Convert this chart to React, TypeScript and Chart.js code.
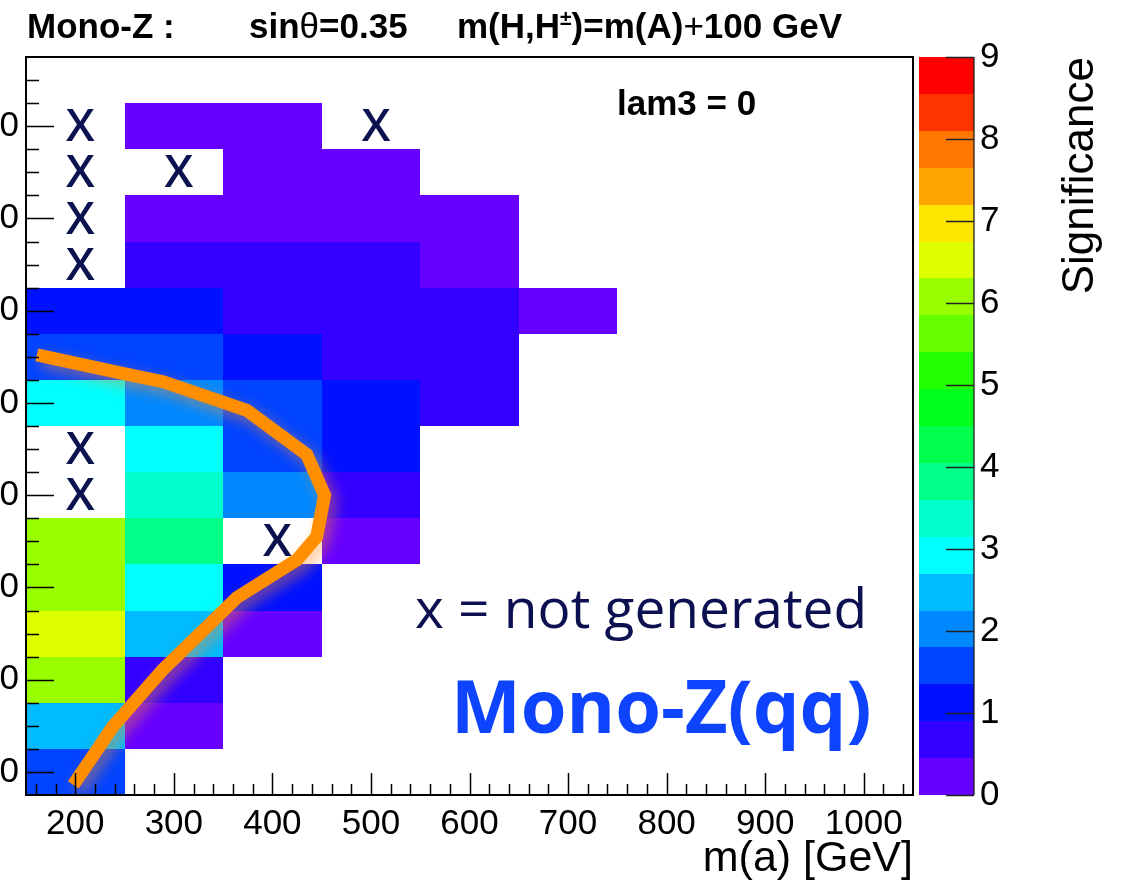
import React, { useEffect, useRef } from 'react';
import { Chart, registerables } from 'chart.js';

Chart.register(...registerables);

// ---------------- data ----------------
// m(a) bin centres (columns) and m(A) bin centres (rows), GeV
const massSmallA = [200, 300, 400, 500, 600, 700];
const massBigA = [300, 350, 400, 450, 500, 550, 600, 650, 700, 750, 800, 850, 900, 950, 1000];
const binWidthSmallA = 100;
const binWidthBigA = 50;

// significance per m(A) row (null = no entry)
const significance: (number | null)[][] = [
  [1.6, null, null, null, null, null], // 300
  [2.5, 0.25, null, null, null, null], // 350
  [6.1, 0.7, null, null, null, null], // 400
  [6.5, 2.5, 0.25, null, null, null], // 450
  [6.1, 2.9, 1.1, null, null, null], // 500
  [6.1, 3.8, null, 0.25, null, null], // 550
  [null, 3.4, 2.0, 0.7, null, null], // 600
  [null, 2.9, 1.6, 1.1, null, null], // 650
  [2.9, 2.0, 1.6, 1.1, 0.7, null], // 700
  [1.6, 1.6, 1.1, 0.7, 0.7, null], // 750
  [1.1, 1.1, 0.7, 0.7, 0.7, 0.25], // 800
  [null, 0.7, 0.7, 0.7, 0.25, null], // 850
  [null, 0.25, 0.25, 0.25, 0.25, null], // 900
  [null, null, 0.25, 0.25, null, null], // 950
  [null, 0.25, 0.25, null, null, null], // 1000
];

// points that were not generated ("X")
const notGeneratedSmallA = [200, 500, 200, 300, 200, 200, 200, 200, 400];
const notGeneratedBigA = [1000, 1000, 950, 950, 900, 850, 650, 600, 550];

// exclusion contour
const contourSmallA = [161, 248, 289, 374, 435, 453, 445, 425, 364, 289, 238, 198];
const contourBigA = [752, 732, 723, 692, 644, 600, 555, 530, 489, 411, 349, 286];

const xTicks = [200, 300, 400, 500, 600, 700, 800, 900, 1000];
const yTicks = [300, 400, 500, 600, 700, 800, 900, 1000];
const zTicks = [0, 1, 2, 3, 4, 5, 6, 7, 8, 9];

// ---------------- style ----------------
const PALETTE = [
  '#6600ff', '#3300ff', '#0011ff', '#0044ff', '#0088ff', '#00bbff', '#00ffff', '#00ffcc', '#00ff88', '#00ff4d',
  '#00ff1a', '#22ff00', '#66ff00', '#99ff00', '#ddff00', '#ffe600', '#ffa500', '#ff7700', '#ff3300', '#ff0000',
];
const Z_MIN = 0;
const Z_MAX = 9;
const OFF = 60; // part of the canvas hidden past the left page edge
const W = 1127 + OFF;
const H = 881;

function colorFor(v: number) {
  const i = Math.min(PALETTE.length - 1, Math.max(0, Math.floor(((v - Z_MIN) / (Z_MAX - Z_MIN)) * PALETTE.length)));
  return PALETTE[i];
}

const heatmapPlugin = {
  id: 'heatmap',
  beforeDatasetsDraw(chart: any) {
    const { ctx } = chart;
    const x = chart.scales.x;
    const y = chart.scales.y;
    ctx.save();
    massBigA.forEach((mA, r) => {
      massSmallA.forEach((ma, c) => {
        const v = significance[r][c];
        if (v == null) return;
        const x0 = Math.round(x.getPixelForValue(ma - binWidthSmallA / 2));
        const x1 = Math.round(x.getPixelForValue(ma + binWidthSmallA / 2));
        const y0 = Math.round(y.getPixelForValue(mA + binWidthBigA / 2));
        const y1 = Math.round(y.getPixelForValue(mA - binWidthBigA / 2));
        ctx.fillStyle = colorFor(v);
        ctx.fillRect(x0, y0, x1 - x0, y1 - y0);
      });
    });
    ctx.fillStyle = '#0b1250';
    ctx.font = '600 46px "Open Sans"';
    ctx.textAlign = 'center';
    ctx.textBaseline = 'middle';
    notGeneratedSmallA.forEach((ma, i) => {
      ctx.fillText('X', x.getPixelForValue(ma) + 5, y.getPixelForValue(notGeneratedBigA[i]) + 2);
    });
    ctx.restore();
  },
};

const shadowPlugin = {
  id: 'lineShadow',
  beforeDatasetDraw(chart: any) {
    const ctx = chart.ctx;
    ctx.save();
    ctx.shadowColor = 'rgba(255,140,40,0.5)';
    ctx.shadowBlur = 14;
    ctx.shadowOffsetX = 5;
    ctx.shadowOffsetY = 6;
  },
  afterDatasetDraw(chart: any) {
    chart.ctx.restore();
  },
};

const overlayPlugin = {
  id: 'overlay',
  afterDatasetsDraw(chart: any) {
    const { ctx, chartArea } = chart;
    const x = chart.scales.x;
    const y = chart.scales.y;
    const z = chart.scales.z;
    ctx.save();
    // inner ticks
    ctx.strokeStyle = '#000';
    ctx.lineWidth = 1.5;
    ctx.beginPath();
    for (let v = 160; v < 1050; v += 20) {
      const len = v % 100 === 0 ? 22 : 11;
      const px = Math.round(x.getPixelForValue(v)) + 0.5;
      ctx.moveTo(px, chartArea.bottom);
      ctx.lineTo(px, chartArea.bottom - len);
    }
    for (let v = 300; v < 1075; v += 25) {
      const len = v % 100 === 0 ? 28 : 13;
      const py = Math.round(y.getPixelForValue(v)) + 0.5;
      ctx.moveTo(chartArea.left, py);
      ctx.lineTo(chartArea.left + len, py);
    }
    ctx.stroke();
    // frame
    ctx.lineWidth = 2;
    ctx.strokeRect(chartArea.left, chartArea.top, chartArea.right - chartArea.left, chartArea.bottom - chartArea.top);

    // colour bar
    const cbL = z.left + 6;
    const cbR = z.left + 61;
    const n = PALETTE.length;
    for (let i = 0; i < n; i++) {
      const v0 = Z_MIN + ((Z_MAX - Z_MIN) * i) / n;
      const v1 = Z_MIN + ((Z_MAX - Z_MIN) * (i + 1)) / n;
      const y0 = Math.round(z.getPixelForValue(v1));
      const y1 = Math.round(z.getPixelForValue(v0));
      ctx.fillStyle = PALETTE[i];
      ctx.fillRect(cbL, y0, cbR - cbL, y1 - y0);
    }
    ctx.strokeStyle = '#222';
    ctx.lineWidth = 1.3;
    ctx.beginPath();
    ctx.moveTo(cbR, z.getPixelForValue(Z_MAX));
    ctx.lineTo(cbR, z.getPixelForValue(Z_MIN));
    zTicks.forEach((t) => {
      const py = Math.round(z.getPixelForValue(t)) + 0.5;
      ctx.moveTo(cbR - 28, py);
      ctx.lineTo(cbR, py);
    });
    ctx.stroke();
    ctx.restore();
  },
  afterDraw(chart: any) {
    const { ctx } = chart;
    ctx.save();
    ctx.fillStyle = '#000';
    ctx.textBaseline = 'alphabetic';
    ctx.textAlign = 'left';
    // title
    const bold = 'bold 35px "Liberation Sans"';
    const base = 38;
    ctx.font = bold;
    ctx.fillText('Mono-Z :', 27 + OFF, base);
    let tx = 249 + OFF;
    ctx.fillText('sin', tx, base);
    tx += ctx.measureText('sin').width;
    ctx.font = '35px "Liberation Sans"';
    ctx.fillText('\u03b8', tx, base);
    tx += ctx.measureText('\u03b8').width;
    ctx.font = bold;
    ctx.fillText('=0.35', tx, base);
    tx = 457 + OFF;
    ctx.fillText('m(H,H', tx, base);
    tx += ctx.measureText('m(H,H').width;
    ctx.font = 'bold 21px "Liberation Sans"';
    ctx.fillText('\u00b1', tx, base - 13);
    tx += ctx.measureText('\u00b1').width;
    ctx.font = bold;
    ctx.fillText(')=m(A)', tx, base);
    tx += ctx.measureText(')=m(A)').width;
    ctx.font = '35px "Liberation Sans"';
    ctx.fillText('+', tx, base);
    tx += ctx.measureText('+').width;
    ctx.font = bold;
    ctx.fillText('100 GeV', tx, base);

    // lam3 label
    ctx.font = 'bold 35px "Liberation Sans"';
    ctx.fillText('lam3 = 0', 617 + OFF, 115);

    // legend texts
    ctx.fillStyle = '#0c1050';
    ctx.font = '55px "Open Sans"';
    ctx.fillText('x = not generated', 415 + OFF, 628);
    ctx.fillStyle = '#0f44ff';
    ctx.font = 'bold 74px "Open Sans"';
    ctx.fillText('Mono-Z(qq)', 451 + OFF, 733);

    // colour bar title
    ctx.fillStyle = '#000';
    ctx.font = '44px "Liberation Sans"';
    ctx.translate(1081 + OFF, 57);
    ctx.rotate(-Math.PI / 2);
    ctx.textAlign = 'right';
    ctx.textBaseline = 'middle';
    ctx.fillText('Significance', 0, 0);
    ctx.restore();
  },
};

export default function App() {
  const ref = useRef<HTMLCanvasElement | null>(null);
  useEffect(() => {
    if (!ref.current) return;
    const tickFont = { family: 'Liberation Sans', size: 35 };
    const chart = new Chart(ref.current, {
      type: 'scatter',
      data: {
        datasets: [
          {
            data: contourSmallA.map((v, i) => ({ x: v, y: contourBigA[i] })),
            showLine: true,
            borderColor: '#ff8f00',
            borderWidth: 13,
            pointRadius: 0,
            tension: 0,
            fill: false,
            borderJoinStyle: 'miter',
            borderCapStyle: 'butt',
            clip: false,
          } as any,
        ],
      },
      options: {
        animation: false,
        responsive: false,
        events: [],
        layout: { padding: { top: 57, left: 0, right: 0, bottom: 0 } },
        plugins: { legend: { display: false }, tooltip: { enabled: false }, title: { display: false } },
        scales: {
          x: {
            type: 'linear',
            position: 'bottom',
            min: 150,
            max: 1050,
            grid: { display: false, drawTicks: false },
            border: { display: false },
            ticks: {
              padding: 8,
              font: tickFont,
              color: '#000',
              autoSkip: false,
              maxRotation: 0,
              callback: (v: any) => String(v),
            },
            afterBuildTicks: (s: any) => {
              s.ticks = xTicks.map((v) => ({ value: v }));
            },
            afterFit: (s: any) => {
              s.height = 86;
              s.paddingLeft = 0;
              s.paddingRight = 0;
            },
            title: {
              display: true,
              text: 'm(a) [GeV]',
              align: 'end',
              color: '#000',
              font: { family: 'Liberation Sans', size: 43, lineHeight: 1 },
              padding: { top: 0, bottom: 0 },
            },
          },
          y: {
            type: 'linear',
            position: 'left',
            min: 275,
            max: 1075,
            grid: { display: false, drawTicks: false },
            border: { display: false },
            ticks: { padding: 7, font: tickFont, color: '#000', autoSkip: false, callback: (v: any) => String(v) },
            afterBuildTicks: (s: any) => {
              s.ticks = yTicks.map((v) => ({ value: v }));
            },
            afterFit: (s: any) => {
              s.width = 86;
              s.paddingTop = 0;
              s.paddingBottom = 0;
            },
          },
          z: {
            type: 'linear',
            position: 'right',
            min: Z_MIN,
            max: Z_MAX,
            grid: { display: false, drawTicks: false },
            border: { display: false },
            ticks: { padding: 67, font: tickFont, color: '#000', autoSkip: false, callback: (v: any) => String(v) },
            afterBuildTicks: (s: any) => {
              s.ticks = zTicks.map((v) => ({ value: v }));
            },
            afterFit: (s: any) => {
              s.width = 214;
              s.paddingTop = 0;
              s.paddingBottom = 0;
            },
          },
        },
      } as any,
      plugins: [heatmapPlugin, shadowPlugin, overlayPlugin],
    });
    return () => chart.destroy();
  }, []);

  return (
    <div style={{ position: 'absolute', left: 0, top: 0, width: 1127, height: 881, overflow: 'hidden', background: '#fff' }}>
      <canvas
        ref={ref}
        width={W}
        height={H}
        style={{ position: 'absolute', left: -OFF, top: 0, width: W, height: H }}
      />
    </div>
  );
}
